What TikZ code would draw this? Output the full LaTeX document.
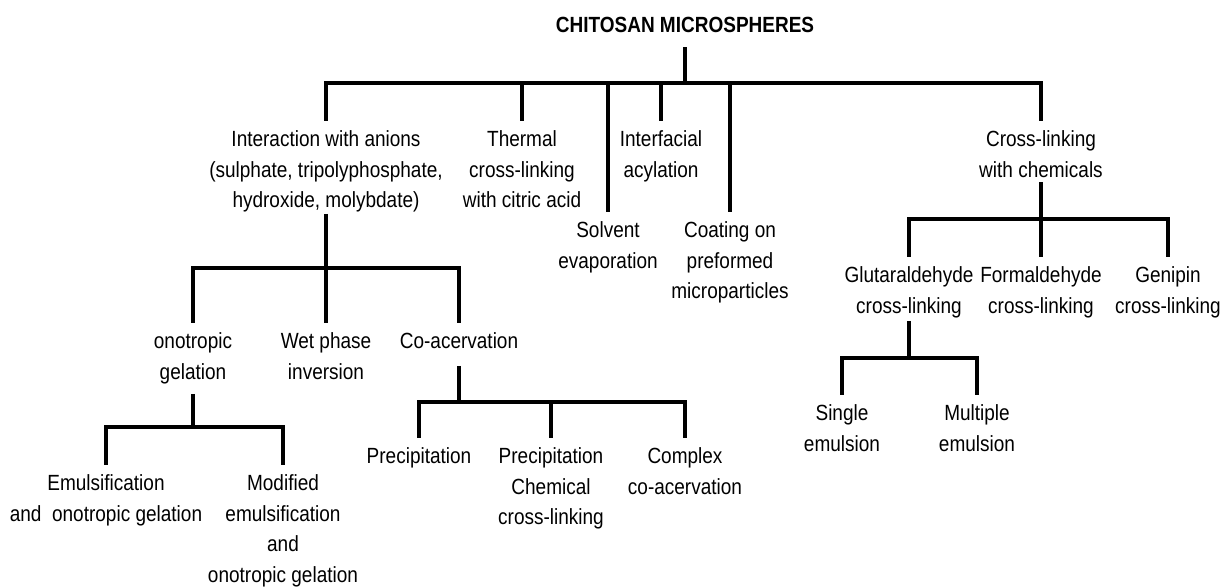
\documentclass[tikz,border=0pt]{standalone}
\usepackage{fontspec}
\setmainfont{Liberation Sans}[FakeStretch=0.865]

\tikzset{
  item/.style={align=center, anchor=north, inner xsep=0pt, inner ysep=0.19cm,
    font=\fontsize{12.5pt}{17.4pt}\selectfont},
  head/.style={inner sep=0pt, font=\fontsize{12.5pt}{14pt}\selectfont\bfseries},
  tie/.style={line width=1.8pt}
}

\begin{document}
\begin{tikzpicture}
  \useasboundingbox (0,0) rectangle (24.44,11.74);
  % bar heights
  \coordinate (b0) at (0,10.08);
  \coordinate (b1) at (0,6.38);
  \coordinate (b2) at (0,3.20);
  \coordinate (b3) at (0,3.70);
  \coordinate (b4) at (0,7.36);
  \coordinate (b5) at (0,4.58);

  % title
  \node[head] (root) at (13.70,11.24) {CHITOSAN MICROSPHERES};

  % first level
  \node[item] (inter) at (6.52,9.32) {Interaction with anions\\(sulphate, tripolyphosphate,\\hydroxide, molybdate)};
  \node[item] (therm) at (10.44,9.32) {Thermal\\cross-linking\\with citric acid};
  \node[item] (solv) at (12.16,7.50) {Solvent\\evaporation};
  \node[item] (intf) at (13.22,9.32) {Interfacial\\acylation};
  \node[item] (coat) at (14.60,7.50) {Coating on\\preformed\\microparticles};
  \node[item] (cross) at (20.82,9.32) {Cross-linking\\with chemicals};

  % anions branch
  \node[item] (iono) at (3.86,5.28) {onotropic\\gelation};
  \node[item] (wet) at (6.52,5.28) {Wet phase\\inversion};
  \node[item] (coac) at (9.18,5.28) {Co-acervation};
  \node[item] (emul) at (2.12,2.44) {Emulsification\\and~ onotropic gelation};
  \node[item] (modem) at (5.66,2.44) {Modified\\emulsification\\and\\onotropic gelation};
  \node[item] (prec) at (8.38,2.98) {Precipitation};
  \node[item] (precc) at (11.02,2.98) {Precipitation\\Chemical\\cross-linking};
  \node[item] (cplx) at (13.70,2.98) {Complex\\co-acervation};

  % chemicals branch
  \node[item] (glut) at (18.18,6.60) {Glutaraldehyde\\cross-linking};
  \node[item] (form) at (20.82,6.60) {Formaldehyde\\cross-linking};
  \node[item] (geni) at (23.36,6.60) {Genipin\\cross-linking};
  \node[item] (sing) at (16.84,3.84) {Single\\emulsion};
  \node[item] (mult) at (19.54,3.84) {Multiple\\emulsion};

  % connectors
  \draw[tie] ([yshift=-0.28cm]root.south) -- (root.south |- b0) coordinate (s0);
  \draw[tie] (s0) -| (inter.north);
  \draw[tie] (s0) -| (therm.north);
  \draw[tie] (s0) -| (solv.north);
  \draw[tie] (s0) -| (intf.north);
  \draw[tie] (s0) -| (coat.north);
  \draw[tie] (s0) -| (cross.north);

  \draw[tie] ([yshift=0.17cm]inter.south) -- (inter.south |- b1) coordinate (s1);
  \draw[tie] (s1) -| (iono.north);
  \draw[tie] (s1) -| (wet.north);
  \draw[tie] (s1) -| (coac.north);

  \draw[tie] (iono.south) -- (iono.south |- b2) coordinate (s2);
  \draw[tie] (s2) -| (emul.north);
  \draw[tie] (s2) -| (modem.north);

  \draw[tie] ([yshift=-0.14cm]coac.south) -- (coac.south |- b3) coordinate (s3);
  \draw[tie] (s3) -| (prec.north);
  \draw[tie] (s3) -| (precc.north);
  \draw[tie] (s3) -| (cplx.north);

  \draw[tie] ([yshift=0.1cm]cross.south) -- (cross.south |- b4) coordinate (s4);
  \draw[tie] (s4) -| (glut.north);
  \draw[tie] (s4) -| (form.north);
  \draw[tie] (s4) -| (geni.north);

  \draw[tie] ([yshift=0.14cm]glut.south) -- (glut.south |- b5) coordinate (s5);
  \draw[tie] (s5) -| (sing.north);
  \draw[tie] (s5) -| (mult.north);
\end{tikzpicture}
\end{document}
